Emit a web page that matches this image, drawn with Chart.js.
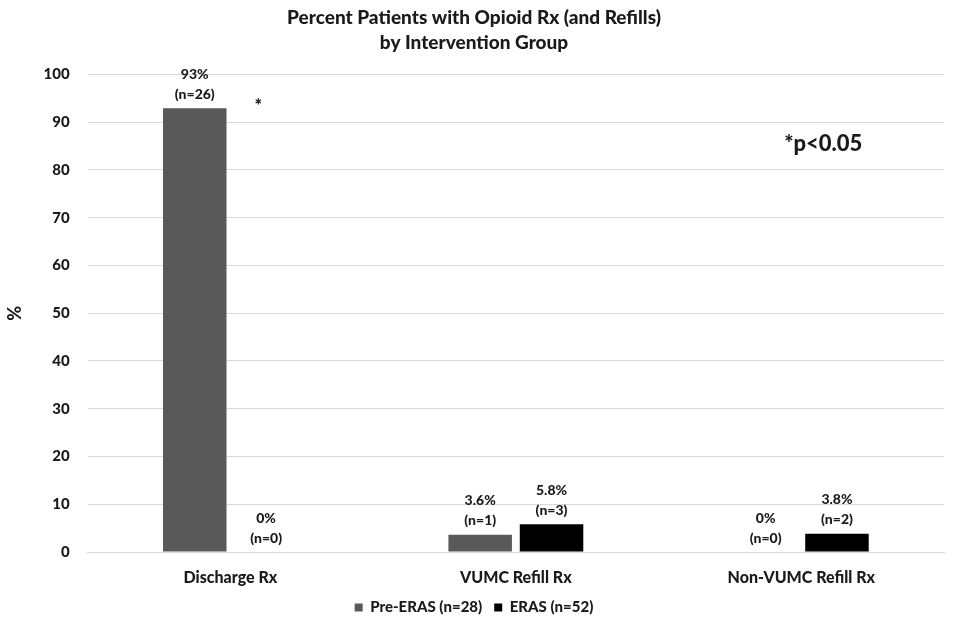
<!DOCTYPE html>
<html>
<head>
<meta charset="utf-8">
<script src="https://cdn.jsdelivr.net/npm/chart.js@4/dist/chart.umd.min.js"></script>
<style>
  html, body { margin: 0; padding: 0; background: #fff; }
  #wrap { width: 958px; height: 620px; }
</style>
</head>
<body>
<div id="wrap"><canvas id="chart" width="958" height="620"></canvas></div>
<script>
// data
const categories = ['Discharge Rx', 'VUMC Refill Rx', 'Non-VUMC Refill Rx'];
const preErasValues = [92.9, 3.6, 0];
const erasValues = [0, 5.8, 3.8];
const preErasPct = ['93%', '3.6%', '0%'];
const preErasN = ['(n=26)', '(n=1)', '(n=0)'];
const erasPct = ['0%', '5.8%', '3.8%'];
const erasN = ['(n=0)', '(n=3)', '(n=2)'];
const seriesNames = ['Pre-ERAS (n=28)', 'ERAS (n=52)'];

const FONT = 'Lato, "DejaVu Sans", sans-serif';
const W = 900;

// labels above every bar, plus the significance notes
const barLabels = {
  id: 'barLabels',
  afterDatasetsDraw(chart) {
    const ctx = chart.ctx;
    const texts = [[preErasPct, preErasN], [erasPct, erasN]];
    ctx.save();
    ctx.font = W + ' 14px ' + FONT;
    ctx.fillStyle = '#1a1a1a';
    ctx.textAlign = 'center';
    ctx.textBaseline = 'middle';
    chart.data.datasets.forEach((ds, di) => {
      chart.getDatasetMeta(di).data.forEach((bar, i) => {
        ctx.fillText(texts[di][0][i], bar.x, bar.y - 34);
        ctx.fillText(texts[di][1][i], bar.x, bar.y - 14);
      });
    });

    const x = chart.scales.x, y = chart.scales.y;
    ctx.font = W + ' 18px ' + FONT;
    ctx.fillText('*', x.getPixelForValue(0) + 28, y.getPixelForValue(93.3));
    ctx.font = W + ' 22px ' + FONT;
    ctx.fillText('*p<0.05', x.getPixelForValue(2) + 22, y.getPixelForValue(85.5));
    ctx.restore();
  }
};

new Chart(document.getElementById('chart'), {
  type: 'bar',
  data: {
    labels: categories,
    datasets: [
      { label: seriesNames[0], data: preErasValues, backgroundColor: '#595959' },
      { label: seriesNames[1], data: erasValues, backgroundColor: '#000000' }
    ]
  },
  options: {
    responsive: false,
    animation: false,
    layout: { padding: { left: 4, right: 14, top: 2, bottom: -5 } },
    datasets: { bar: { barPercentage: 0.89, categoryPercentage: 0.5 } },
    scales: {
      x: {
        grid: { display: false },
        border: { color: '#d9d9d9' },
        ticks: { color: '#1a1a1a', font: { family: FONT, size: 16, weight: W, lineHeight: 1 }, padding: 10 },
        afterFit(scale) { scale.height = 36; }
      },
      y: {
        min: 0, max: 100,
        ticks: { stepSize: 10, color: '#1a1a1a', font: { family: FONT, size: 15, weight: W }, padding: 18 },
        grid: { color: '#d9d9d9', drawTicks: false },
        border: { display: false },
        title: { display: true, text: '%', color: '#1a1a1a', font: { family: FONT, size: 18, weight: W }, padding: 0 }
      }
    },
    plugins: {
      title: {
        display: true,
        text: ['Percent Patients with Opioid Rx (and Refills)', 'by Intervention Group'],
        color: '#1a1a1a',
        font: { family: FONT, size: 19, weight: W, lineHeight: 1.3 },
        padding: { top: 4, bottom: 19 }
      },
      legend: {
        position: 'bottom',
        labels: {
          color: '#1a1a1a',
          font: { family: FONT, size: 15, weight: W, lineHeight: 1 },
          boxWidth: 8, boxHeight: 8, padding: 12
        }
      },
      tooltip: { enabled: false }
    }
  },
  plugins: [barLabels]
});
</script>
</body>
</html>
